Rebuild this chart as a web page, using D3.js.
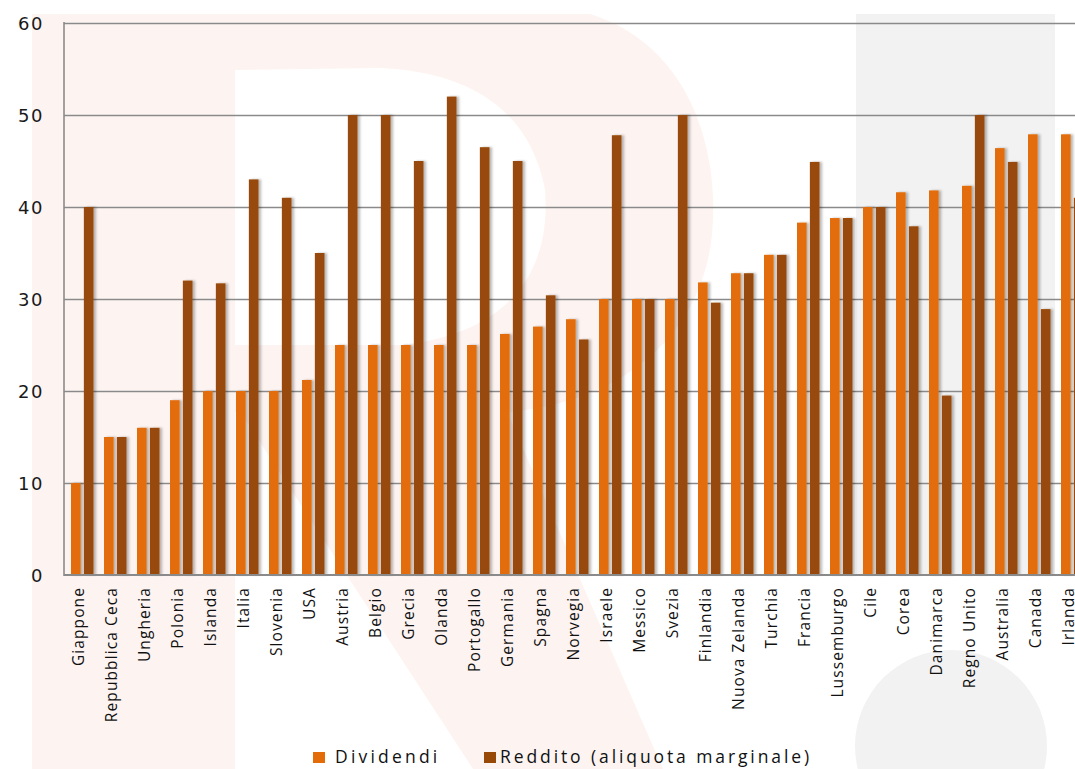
<!DOCTYPE html>
<html>
<head>
<meta charset="utf-8">
<script src="https://cdn.jsdelivr.net/npm/d3@7"></script>
<style>
  html, body { margin: 0; padding: 0; background: #ffffff; overflow: hidden; }
  svg { display: block; }
</style>
</head>
<body>
<svg id="chart" width="1075" height="769"></svg>
<script>
// ---------- data ----------
const categories = ["Giappone","Repubblica Ceca","Ungheria","Polonia","Islanda","Italia","Slovenia","USA","Austria","Belgio","Grecia","Olanda","Portogallo","Germania","Spagna","Norvegia","Israele","Messico","Svezia","Finlandia","Nuova Zelanda","Turchia","Francia","Lussemburgo","Cile","Corea","Danimarca","Regno Unito","Australia","Canada","Irlanda"];
const dividendi = [10,15,16,19,20,20,20,21.2,25,25,25,25,25,26.2,27,27.8,30,30,30,31.8,32.8,34.8,38.3,38.8,40,41.6,41.8,42.3,46.4,47.9,47.9];
const reddito   = [40,15,16,32,31.7,43,41,35,50,50,45,52,46.5,45,30.4,25.6,47.8,30,50,29.6,32.8,34.8,44.9,38.8,40,37.9,19.5,50,44.9,28.9,41];
const seriesNames = ["Dividendi","Reddito (aliquota marginale)"];
const yTicks = [0,10,20,30,40,50,60];

(function () {
// ---------- layout ----------
const W = 1075, H = 769;
const mLeft = 64, mTop = 23, mBottom = 575;
const step = 33;
const colors = ["#E36C09", "#984807"];

const svg = d3.select("#chart");

// defs: shadow
const defs = svg.append("defs");
const f = defs.append("filter").attr("id","sh").attr("x","-50%").attr("y","-10%").attr("width","200%").attr("height","120%");
f.append("feDropShadow").attr("dx",2.5).attr("dy",0).attr("stdDeviation",1.3)
  .attr("flood-color","#000").attr("flood-opacity",0.28);

// ---------- watermark ----------
const wm = svg.append("g").attr("class","watermark");
const pink = "#FDF4F2";
wm.append("rect").attr("x",32).attr("y",14).attr("width",203).attr("height",H-14).attr("fill",pink);
wm.append("path").attr("fill",pink)
  .attr("d","M235,14 L590,14 C690,45 720,150 712,235 C702,330 630,400 510,412 L235,412 Z");
wm.append("path").attr("fill","#ffffff")
  .attr("d","M235,70 L380,68 C470,72 530,110 545,190 C552,280 500,335 400,345 L235,345 Z");
wm.append("path").attr("fill",pink)
  .attr("d","M200,350 L480,350 L663,769 L473,769 Z");
wm.append("rect").attr("x",856).attr("y",14).attr("width",199).attr("height",560).attr("fill","#F2F2F2");
wm.append("circle").attr("cx",951).attr("cy",746).attr("r",96).attr("fill","#F2F2F2");

// ---------- scales ----------
const x0 = d3.scaleBand().domain(categories).range([mLeft, mLeft + step * categories.length]).padding(0);
const x1 = d3.scaleBand().domain(seriesNames).range([7, 29.5]).paddingInner(0.25);
const y = d3.scaleLinear().domain([0, 60]).range([mBottom, mTop]);

// ---------- gridlines ----------
const grid = svg.append("g").attr("transform", `translate(${mLeft},0)`)
  .call(d3.axisLeft(y).tickValues(yTicks.filter(v => v > 0)).tickSize(-(W - mLeft)).tickFormat(""));
grid.select(".domain").remove();
grid.selectAll("line").attr("stroke","#8a8a8a").attr("stroke-width",1.6);

// ---------- bars ----------
const rows = categories.map((c, i) => ({ c, vals: [dividendi[i], reddito[i]] }));
const g = svg.append("g").attr("filter","url(#sh)");
g.selectAll("g.cat").data(rows).join("g").attr("class","cat")
  .attr("transform", d => `translate(${x0(d.c)},0)`)
  .selectAll("rect").data(d => d.vals.map((v, j) => ({ v, s: seriesNames[j], j })))
  .join("rect")
  .attr("x", d => x1(d.s))
  .attr("width", x1.bandwidth())
  .attr("y", d => y(d.v))
  .attr("height", d => y(0) - y(d.v))
  .attr("fill", d => colors[d.j]);

// ---------- axes ----------
svg.append("line").attr("x1",mLeft).attr("x2",mLeft).attr("y1",mTop-1).attr("y2",mBottom+1)
  .attr("stroke","#8a8a8a").attr("stroke-width",1.6);
svg.append("line").attr("x1",mLeft).attr("x2",W).attr("y1",mBottom).attr("y2",mBottom)
  .attr("stroke","#8a8a8a").attr("stroke-width",1.8);

const yAx = svg.append("g").attr("transform","translate(44,0)")
  .call(d3.axisLeft(y).tickValues(yTicks).tickSize(0).tickPadding(0).tickFormat(d3.format("d")));
yAx.select(".domain").remove();
yAx.selectAll("text")
  .attr("font-family","DejaVu Sans, Verdana, sans-serif")
  .attr("font-size","18px").attr("letter-spacing","1.5px")
  .attr("fill","#1a1a1a").attr("dy","0.38em");

const xAx = svg.append("g").attr("transform",`translate(0,${mBottom})`)
  .call(d3.axisBottom(x0).tickSize(0).tickPadding(0));
xAx.select(".domain").remove();
xAx.selectAll("text")
  .attr("font-family","Open Sans, sans-serif")
  .attr("font-size","15.5px").attr("letter-spacing","1.1px")
  .attr("fill","#111")
  .attr("text-anchor","end")
  .attr("dy","0")
  .attr("transform","translate(3,12) rotate(-90)")
  .attr("x",0).attr("y",0);

// ---------- legend ----------
const legend = svg.append("g");
const legendPos = [{sx:313, tx:335}, {sx:484, tx:500}];
seriesNames.forEach((n, i) => {
  legend.append("rect").attr("x", legendPos[i].sx).attr("y",752).attr("width",12).attr("height",11).attr("fill",colors[i]);
  legend.append("text").attr("x", legendPos[i].tx).attr("y",763)
    .attr("font-family","Open Sans, sans-serif").attr("font-size","17.5px")
    .attr("letter-spacing", i === 0 ? "3.2px" : "2.9px")
    .attr("fill","#111").text(n);
});
})();
</script>
</body>
</html>
